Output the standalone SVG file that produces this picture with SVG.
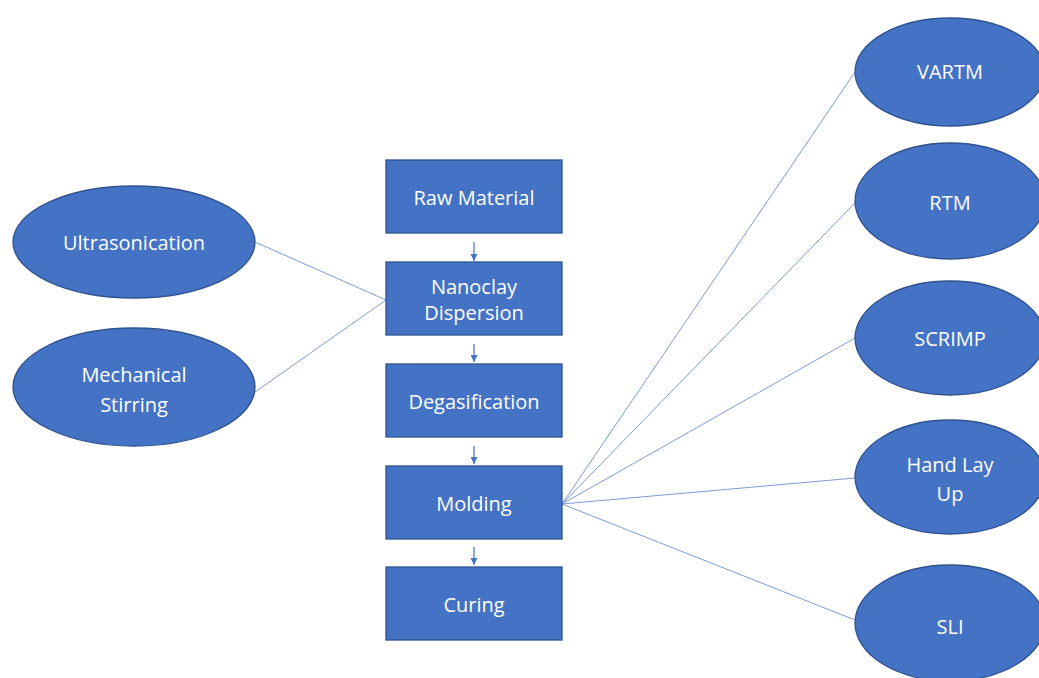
<svg xmlns="http://www.w3.org/2000/svg" width="1039" height="678" viewBox="0 0 1039 678">
<style>
.n{fill:#4472C4;stroke:#2F528F;stroke-width:1.3}
.t{fill:#ffffff;font-family:"Open Sans","Liberation Sans",sans-serif;font-size:20px;text-anchor:middle;dominant-baseline:central}
.c{stroke:#7F9BD3;stroke-width:1;fill:none}
.a{stroke:#4472C4;stroke-width:1.2;fill:none;marker-end:url(#ah)}
</style>
<defs>
<marker id="ah" markerWidth="8" markerHeight="7" refX="7" refY="3.5" orient="auto" markerUnits="userSpaceOnUse">
<path d="M0,0 L7,3.5 L0,7 Z" fill="#4472C4"/>
</marker>
</defs>
<rect width="1039" height="678" fill="#ffffff"/>
<g id="connectors">
<line class="a" x1="474" y1="242" x2="474" y2="261"/>
<line class="a" x1="474" y1="344" x2="474" y2="362"/>
<line class="a" x1="474" y1="446" x2="474" y2="464"/>
<line class="a" x1="474" y1="547" x2="474" y2="565"/>
<line class="c" x1="255" y1="242" x2="386" y2="300"/>
<line class="c" x1="255" y1="392" x2="386" y2="300"/>
<line class="c" x1="562" y1="504" x2="855" y2="72"/>
<line class="c" x1="562" y1="504" x2="855" y2="203"/>
<line class="c" x1="562" y1="504" x2="855" y2="338"/>
<line class="c" x1="562" y1="504" x2="855" y2="478"/>
<line class="c" x1="562" y1="504" x2="855" y2="620"/>
</g>
<g id="raw-material"><rect class="n" x="386" y="160" width="176" height="73"/><text class="t" x="474" y="197">Raw Material</text></g>
<g id="nanoclay-dispersion"><rect class="n" x="386" y="262" width="176" height="73"/><text class="t" x="474" y="286">Nanoclay</text><text class="t" x="474" y="312">Dispersion</text></g>
<g id="degasification"><rect class="n" x="386" y="364" width="176" height="73"/><text class="t" x="474" y="401">Degasification</text></g>
<g id="molding"><rect class="n" x="386" y="466" width="176" height="73"/><text class="t" x="474" y="503">Molding</text></g>
<g id="curing"><rect class="n" x="386" y="567" width="176" height="73"/><text class="t" x="474" y="604">Curing</text></g>
<g id="ultrasonication"><ellipse class="n" cx="134" cy="242" rx="121" ry="56"/><text class="t" x="134" y="242">Ultrasonication</text></g>
<g id="mechanical-stirring"><ellipse class="n" cx="134" cy="387" rx="121" ry="59"/><text class="t" x="134" y="374">Mechanical</text><text class="t" x="134" y="404">Stirring</text></g>
<g id="vartm"><ellipse class="n" cx="950" cy="72" rx="95" ry="54"/><text class="t" x="950" y="71">VARTM</text></g>
<g id="rtm"><ellipse class="n" cx="950" cy="201" rx="95" ry="58"/><text class="t" x="950" y="202">RTM</text></g>
<g id="scrimp"><ellipse class="n" cx="950" cy="338" rx="95" ry="57"/><text class="t" x="950" y="338">SCRIMP</text></g>
<g id="hand-lay-up"><ellipse class="n" cx="950" cy="477" rx="95" ry="57"/><text class="t" x="950" y="464">Hand Lay</text><text class="t" x="950" y="493">Up</text></g>
<g id="sli"><ellipse class="n" cx="950" cy="623" rx="95" ry="58"/><text class="t" x="950" y="626">SLI</text></g>
</svg>
